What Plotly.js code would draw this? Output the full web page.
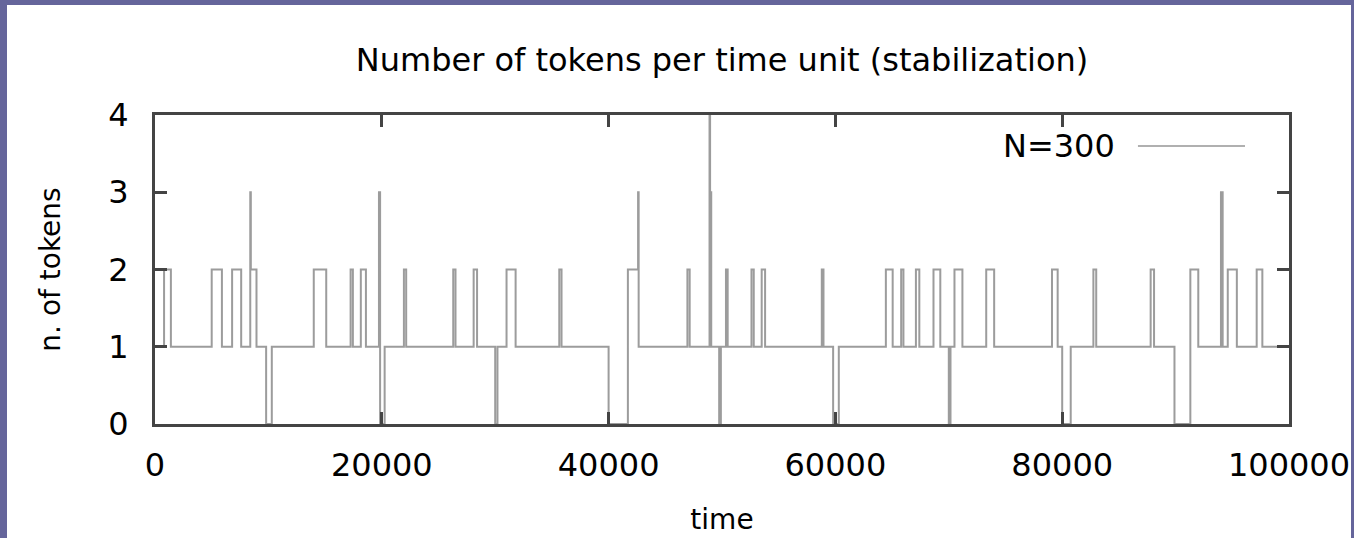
<!DOCTYPE html>
<html>
<head>
<meta charset="utf-8">
<script src="https://cdn.plot.ly/plotly-3.0.1.min.js"></script>
<style>
  html, body { margin: 0; padding: 0; background: #65659b; width: 1354px; height: 538px; overflow: hidden; }
  #chart { position: absolute; left: 7px; top: 5px; width: 1344px; height: 533px; background: #ffffff; }
</style>
</head>
<body>
<div id="chart"></div>
<script>
// Step series: time at which the count changes, and the new count from that time on
const times = [
  0, 800, 1400, 5000, 5900, 6800, 7600, 8400, 8450, 8950, 9800, 10300,
  14000, 15100, 17250, 17450, 18150, 18600, 19750, 19850, 20250,
  21950, 22150, 26300, 26500, 28100, 28400, 30000, 30200, 31000, 31800,
  35650, 35850, 40000, 41700, 42600, 42650,
  46950, 47150, 48900, 48950, 49050, 49750, 49900, 50350, 50500,
  52600, 52800, 53500, 53800, 58800, 58950, 59800, 60300,
  64450, 65050, 65800, 66000, 67100, 67400, 68650, 69250,
  70000, 70150, 70500, 71200, 73300, 74000, 79100, 79600, 80000, 80750,
  82750, 83000, 87800, 88100, 89900, 91300, 92000,
  94000, 94150, 94600, 95400, 97150, 97650, 100000
];
const tokens = [
  1, 2, 1, 2, 1, 2, 1, 3, 2, 1, 0, 1,
  2, 1, 2, 1, 2, 1, 3, 0, 1,
  2, 1, 2, 1, 2, 1, 0, 1, 2, 1,
  2, 1, 0, 2, 3, 1,
  2, 1, 4, 3, 1, 0, 1, 2, 1,
  2, 1, 2, 1, 2, 1, 0, 1,
  2, 1, 2, 1, 2, 1, 2, 1,
  0, 1, 2, 1, 2, 1, 2, 1, 0, 1,
  2, 1, 2, 1, 0, 2, 1,
  3, 1, 2, 1, 2, 1, 1
];
const seriesName = 'N=300';
const xTickVals = [0, 20000, 40000, 60000, 80000, 100000];
const xTickText = ['0', '20000', '40000', '60000', '80000', '100000'];
const yTickVals = [0, 1, 2, 3, 4];
const chartTitle = 'Number of tokens per time unit (stabilization)';
const xTitle = 'time';
const yTitle = 'n. of tokens';

const lineColor = '#9c9c9c';
const axisColor = '#444444';
const font = 'DejaVu Sans, Arial, sans-serif';

const trace = {
  x: times,
  y: tokens,
  type: 'scatter',
  mode: 'lines',
  name: seriesName,
  line: { shape: 'hv', color: lineColor, width: 2 },
  showlegend: false,
  hoverinfo: 'x+y'
};

const axisCommon = {
  showgrid: false,
  zeroline: false,
  showline: true,
  linecolor: axisColor,
  linewidth: 3,
  mirror: 'ticks',
  ticks: 'inside',
  ticklen: 12,
  tickwidth: 3,
  tickcolor: axisColor,
  tickfont: { family: font, size: 32, color: '#000000' }
};

const layout = {
  width: 1344,
  height: 533,
  paper_bgcolor: '#ffffff',
  plot_bgcolor: '#ffffff',
  margin: { l: 148, r: 62, t: 110, b: 114 },
  title: {
    text: chartTitle,
    font: { family: font, size: 32, color: '#000000' },
    xref: 'paper', x: 0.5, xanchor: 'center',
    yref: 'container', y: 0.897, yanchor: 'middle'
  },
  xaxis: Object.assign({}, axisCommon, {
    range: [0, 100000],
    tickmode: 'array',
    tickvals: xTickVals,
    ticktext: xTickText,
    ticklabelstandoff: 11,
    title: { text: xTitle, font: { family: font, size: 28, color: '#000000' }, standoff: 26 }
  }),
  yaxis: Object.assign({}, axisCommon, {
    range: [0, 4],
    tickmode: 'array',
    tickvals: yTickVals,
    ticklabelstandoff: 17,
    title: { text: yTitle, font: { family: font, size: 28, color: '#000000' }, standoff: 40 }
  }),
  annotations: [{
    text: seriesName,
    xref: 'paper', yref: 'paper',
    x: 0.8483, y: 0.8997, xanchor: 'right', yanchor: 'middle',
    showarrow: false,
    font: { family: font, size: 32, color: '#000000' }
  }],
  shapes: [{
    type: 'line', xref: 'paper', yref: 'paper',
    x0: 0.8668, x1: 0.9612, y0: 0.8997, y1: 0.8997,
    line: { color: '#b0b0b0', width: 2 }
  }]
};

Plotly.newPlot('chart', [trace], layout, { displayModeBar: false, staticPlot: true });
</script>
</body>
</html>
